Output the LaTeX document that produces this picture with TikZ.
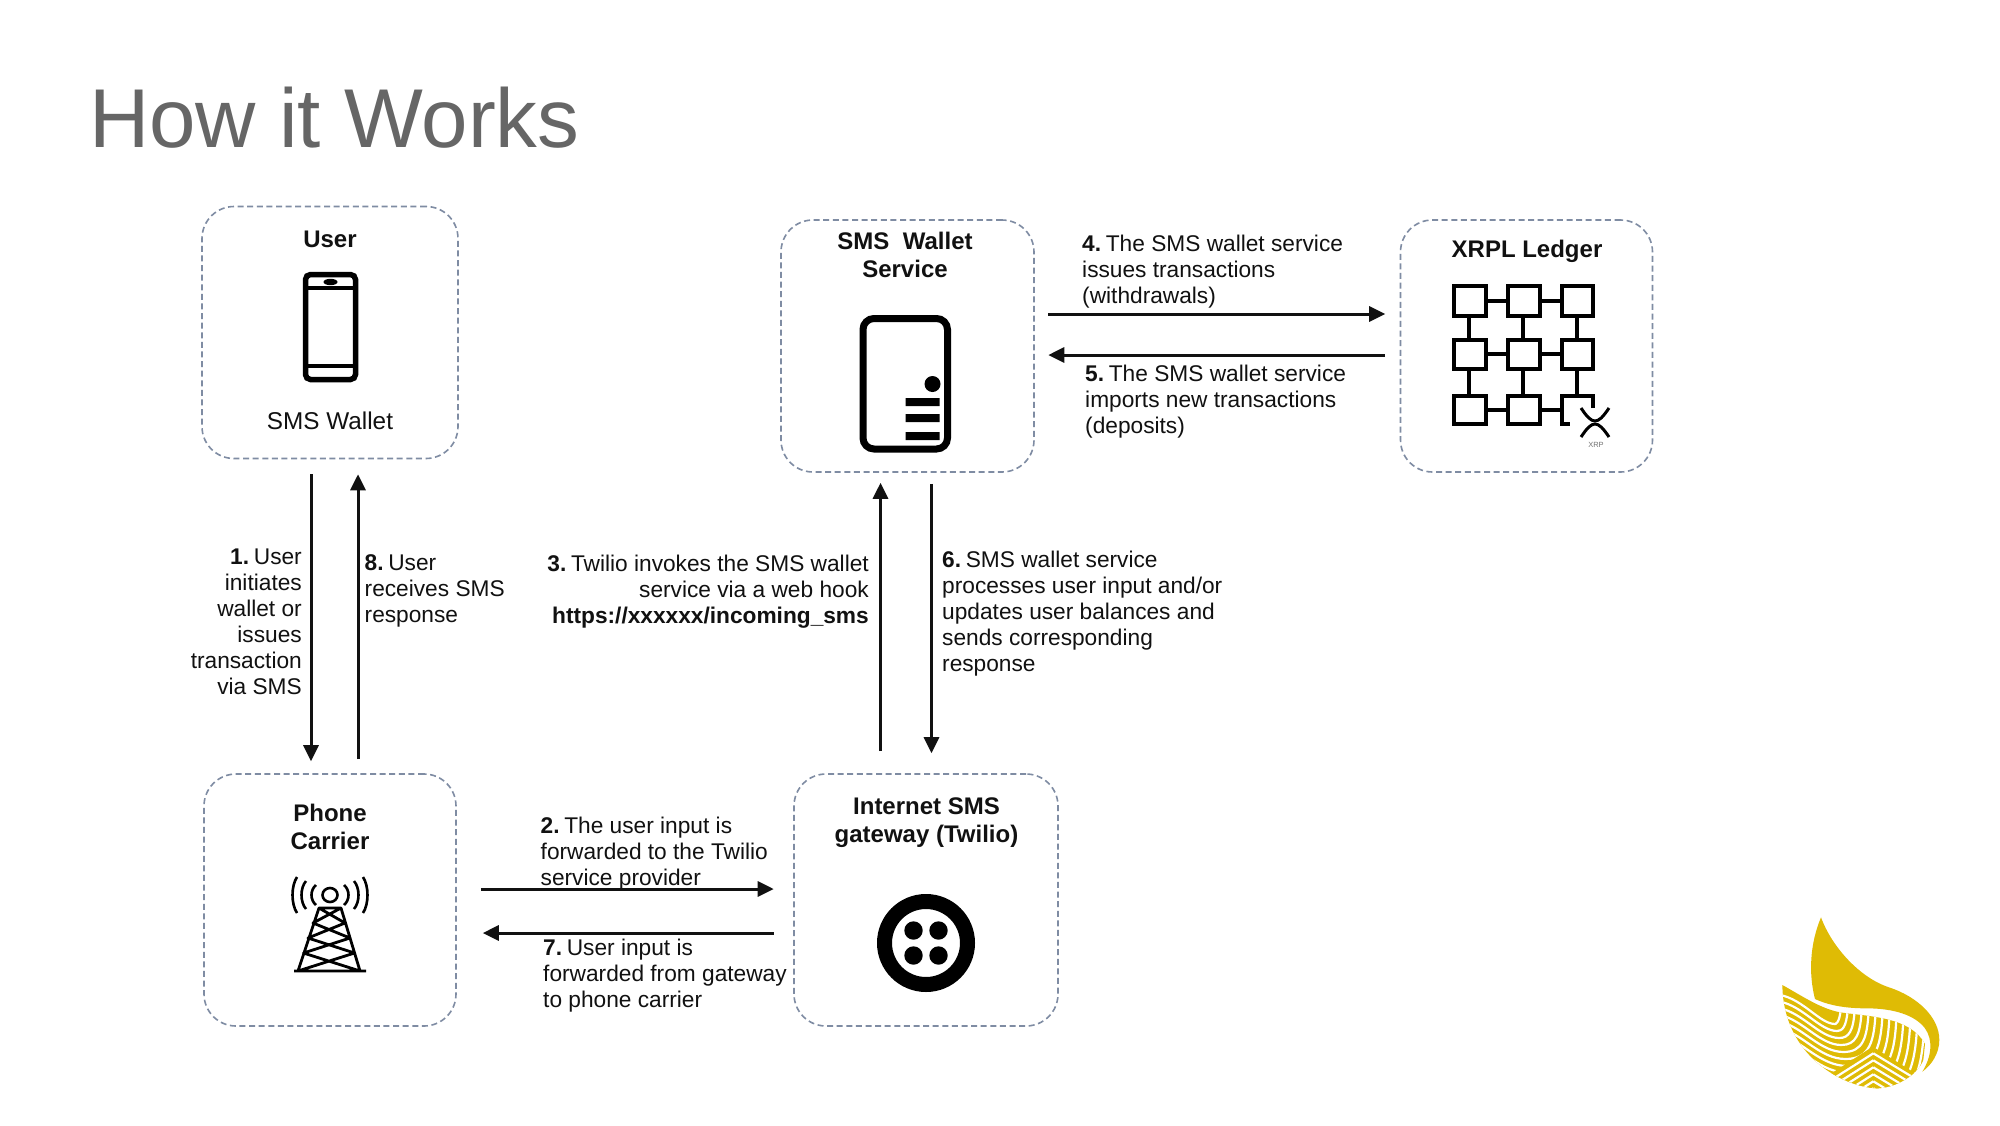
\documentclass[tikz,border=0pt]{standalone}
\usepackage{fontspec}
\setmainfont{Liberation Sans}
\usetikzlibrary{arrows.meta}
\definecolor{boxline}{HTML}{7F8CA3}
\definecolor{ink}{HTML}{111111}
\definecolor{titlegrey}{HTML}{666666}
\definecolor{gold}{HTML}{DFBB05}
\newcommand{\stepnum}[1]{\textbf{#1}\kern-1.6pt\ }
\tikzset{
  groupbox/.style={draw=boxline,line width=1.6pt,dash pattern=on 6pt off 3.6pt,rounded corners=32pt,minimum width=#1,inner sep=0pt,minimum height=252pt},
  arrowline/.style={draw=ink,line width=3pt,-{Triangle[length=16pt,width=15pt]}},
  body/.style={inner sep=0pt,text=ink,font=\fontsize{22.7pt}{26pt}\selectfont},
  heading/.style={inner sep=0pt,text=ink,align=center,font=\fontsize{24pt}{28pt}\selectfont\bfseries},
  icon/.style={draw=black,line width=5.5pt},
  chain/.style={draw=black,line width=4.5pt,line join=miter},
}
\begin{document}
\begin{tikzpicture}[x=1pt,y=-1pt]
\useasboundingbox[fill=white] (0,0) rectangle (2000,1125);
\node[inner sep=0pt,text=titlegrey,anchor=base west,font=\fontsize{83.5pt}{90pt}\selectfont] (title) at (89,147) {How it Works};

% group boxes
\node[groupbox=256pt] (user) at (330,332.5) {};
\node[groupbox=252pt] (carrier) at (330,900) {};
\node[groupbox=253pt] (service) at (907.5,346) {};
\node[groupbox=252pt] (ledger) at (1526.5,346) {};
\node[groupbox=264pt] (gateway) at (926,900) {};

% headings
\node[heading] (userH) at (330,239) {User};
\node[body,font=\fontsize{24.3pt}{28pt}\selectfont] (userW) at (330,421) {SMS Wallet};
\node[heading] (serviceH) at (905,255) {SMS\ \ Wallet\\Service};
\node[heading] (ledgerH) at (1527,251) {XRPL Ledger};
\node[heading] (carrierH) at (330,827) {Phone\\Carrier};
\node[heading] (gatewayH) at (926.5,822.5) {Internet SMS\\gateway (Twilio)};

% arrows
\draw[arrowline] ([xshift=-19pt,yshift=-15pt]user.south) -- ([xshift=-19pt,yshift=12pt]carrier.north);
\draw[arrowline] ([xshift=28pt,yshift=14pt]carrier.north) -- ([xshift=28pt,yshift=-15pt]user.south);
\draw[arrowline] ([xshift=-45.5pt,yshift=22pt]gateway.north) -- ([xshift=-27pt,yshift=-10pt]service.south);
\draw[arrowline] ([xshift=24pt,yshift=-11pt]service.south) -- ([xshift=5.5pt,yshift=20pt]gateway.north);
\draw[arrowline] ([xshift=13.5pt,yshift=32pt]service.east) -- ([xshift=-14.5pt,yshift=32pt]ledger.west);
\draw[arrowline] ([xshift=-14.5pt,yshift=-9pt]ledger.west) -- ([xshift=13.5pt,yshift=-9pt]service.east);
\draw[arrowline] ([xshift=24pt,yshift=11pt]carrier.east) -- ([xshift=-19.5pt,yshift=11pt]gateway.west);
\draw[arrowline] ([xshift=-19.5pt,yshift=-33pt]gateway.west) -- ([xshift=26pt,yshift=-33pt]carrier.east);

% labels
\node[body,align=right,anchor=east] (l1) at (302,622) {\stepnum{1.}User\\initiates\\wallet or\\issues\\transaction\\via SMS};
\node[body,align=left,anchor=west] (l8) at (364.5,591) {\stepnum{8.}User\\receives SMS\\response};
\node[body,align=right,anchor=east] (l3) at (869,592) {\stepnum{3.}Twilio invokes the SMS wallet\\service via a web hook\\\textbf{https://xxxxxx/incoming\_sms}};
\node[body,align=left,anchor=west] (l6) at (942,613.5) {\stepnum{6.}SMS wallet service\\processes user input and/or\\updates user balances and\\sends corresponding\\response};
\node[body,align=left,anchor=west] (l4) at (1082,271.5) {\stepnum{4.}The SMS wallet service\\issues transactions\\(withdrawals)};
\node[body,align=left,anchor=west] (l5) at (1085,401.5) {\stepnum{5.}The SMS wallet service\\imports new transactions\\(deposits)};
\node[body,align=left,anchor=west] (l2) at (540.5,853.5) {\stepnum{2.}The user input is\\forwarded to the Twilio\\service provider};
\node[body,align=left,anchor=west] (l7) at (543,976) {\stepnum{7.}User input is\\forwarded from gateway\\to phone carrier};

% phone icon
\draw[icon,rounded corners=5pt] (305.5,274.5) rectangle (355.5,379.5);
\draw[black,line width=4pt] (305.5,288) -- (355.5,288) (305.5,366) -- (355.5,366);
\fill[black] (330.5,282) ellipse (7pt and 3.2pt);

% server icon
\begin{scope}[shift={(-2.5,0)}]
\draw[draw=black,line width=7pt,rounded corners=11pt] (865.5,318.5) rectangle (950,449);
\fill[black] (935,384) circle (8pt);
\fill[black] (908,398) rectangle (942,406) (908,414) rectangle (942,422) (908,432) rectangle (942,440);
\end{scope}

% blockchain icon
\begin{scope}[shift={(-3,-1)}]
\draw[chain] (1457,287) rectangle (1489,317) (1511,287) rectangle (1543,317) (1565,287) rectangle (1596,317);
\draw[chain] (1457,341) rectangle (1489,370) (1511,341) rectangle (1543,370) (1565,341) rectangle (1596,370);
\draw[chain] (1457,397) rectangle (1489,425) (1511,397) rectangle (1543,425);
\draw[chain] (1596,409) -- (1596,397) -- (1565,397) -- (1565,425) -- (1573,425);
\draw[chain] (1489,302) -- (1511,302) (1543,302) -- (1565,302) (1489,355) -- (1511,355) (1543,355) -- (1565,355) (1489,411) -- (1511,411) (1543,411) -- (1565,411);
\draw[chain] (1472,317) -- (1472,341) (1526,317) -- (1526,341) (1580,317) -- (1580,341) (1472,370) -- (1472,397) (1526,370) -- (1526,397) (1580,370) -- (1580,397);
\draw[black,line width=3pt] (1584,409) .. controls (1590,418) and (1594,422) .. (1598,422) .. controls (1602,422) and (1606,418) .. (1612,409);
\draw[black,line width=3pt] (1584,438) .. controls (1590,429) and (1594,425) .. (1598,425) .. controls (1602,425) and (1606,429) .. (1612,438);
\node[inner sep=0pt,text=black!55,font=\fontsize{7.5pt}{8pt}\selectfont] (xrp) at (1599,446) {XRP};
\end{scope}

% tower icon
\begin{scope}[shift={(-1,0)}]
\draw[black,line width=2.6pt] (331,895) ellipse (7.5pt and 7pt);
\foreach \ax/\hh in {292/18,301/14,311/10}{
  \draw[black,line width=2.6pt] (\ax+6,895-\hh) .. controls (\ax,895-\hh/2) and (\ax,895+\hh/2) .. (\ax+6,895+\hh);
  \draw[black,line width=2.6pt] (662-\ax-6,895-\hh) .. controls (662-\ax,895-\hh/2) and (662-\ax,895+\hh/2) .. (662-\ax-6,895+\hh);
}
\draw[black,line width=2.8pt,line join=round] (295,971) -- (367,971)
  (299,971) -- (320,908) -- (342,908) -- (361,971)
  (320,908) -- (346,923) -- (309,938) -- (355.5,953) -- (299,971)
  (342,908) -- (314,923) -- (351,938) -- (304.5,953) -- (361,971);
\end{scope}

% twilio icon
\begin{scope}[shift={(-2,0)}]
\draw[black,line width=15pt] (928,943) circle (41.5pt);
\fill[black] (915.5,930.5) circle (9.2pt) (940.5,930.5) circle (9.2pt) (915.5,955.5) circle (9.2pt) (940.5,955.5) circle (9.2pt);
\end{scope}

% brand mark
\begin{scope}[shift={(1760,900)},x=0.3333pt,y=-0.3333pt]
\fill[gold] (183,52) .. controls (215,140) and (300,235) .. (390,263) .. controls (470,290) and (538,350) .. (538,420) .. controls (538,460) and (515,495) .. (487,515) .. controls (515,470) and (520,420) .. (495,385) .. controls (465,345) and (400,325) .. (320,325) .. controls (270,325) and (215,320) .. (165,297) .. controls (145,220) and (150,130) .. (183,52) -- cycle;
\begin{scope}
\clip (67,255) .. controls (130,290) and (180,325) .. (240,337) .. controls (330,350) and (450,350) .. (495,432) -- (490,480) .. controls (470,530) and (400,565) .. (350,565) .. controls (250,560) and (70,470) .. (67,255) -- cycle;
\fill[gold] (40,230) rectangle (520,580);
\foreach \rr in {0,21,...,252}{
  \draw[white,line width=2.2pt] (60,285+0.95*\rr) .. controls (130,298+\rr) and (180,372+\rr) .. (225+0.3*\rr,372+\rr) .. controls (225+1.0*\rr,372+\rr) and (238+\rr,372+0.5*\rr) .. (242+\rr,330);
}
\fill[gold] (338,440) -- (530,560) -- (340,620) -- (160,555) -- cycle;
\foreach \rr in {0,21,...,168}{
  \draw[white,line width=2.2pt] (340,460+\rr) -- (190,555+\rr);
  \draw[white,line width=2.2pt] (340,460+\rr) -- (530,575+\rr);
}
\end{scope}
\end{scope}
\end{tikzpicture}
\end{document}
